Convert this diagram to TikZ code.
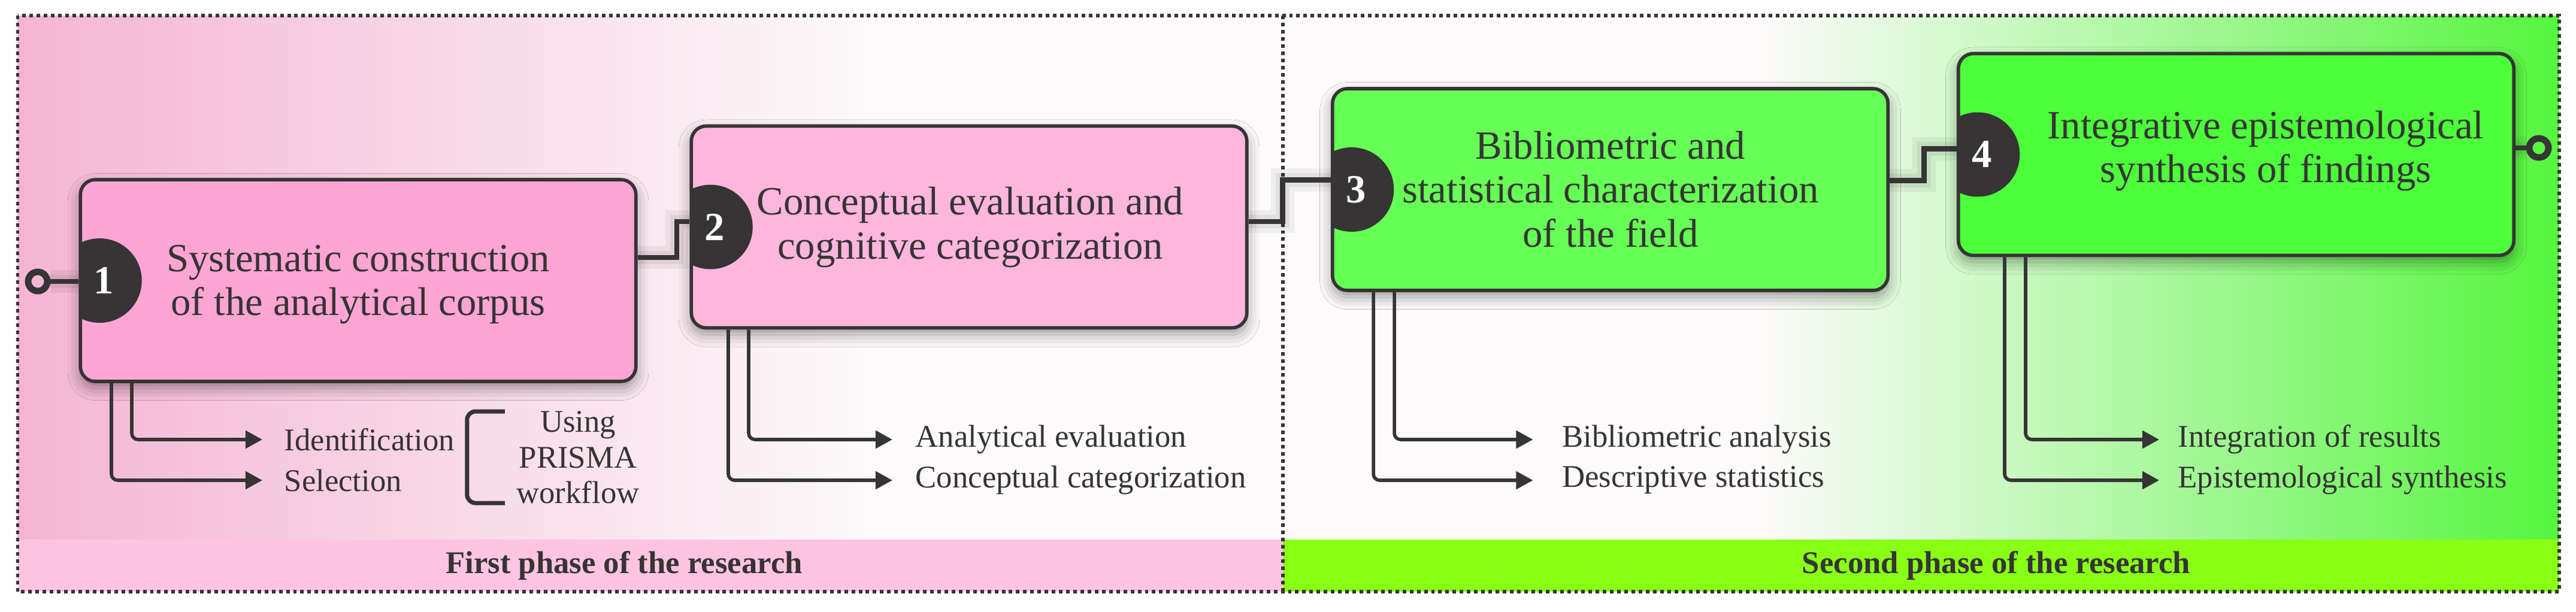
\documentclass[tikz,border=0pt]{standalone}
\usepackage{fontspec}
\setmainfont{Liberation Serif}
\usetikzlibrary{positioning,arrows.meta,shadows.blur}

\definecolor{ink}{RGB}{54,52,53}
\definecolor{boxa}{RGB}{255,165,212}
\definecolor{boxb}{RGB}{255,182,221}
\definecolor{boxc}{RGB}{102,255,85}
\definecolor{boxd}{RGB}{76,255,58}
\definecolor{bandpink}{RGB}{255,196,226}
\definecolor{bandgreen}{RGB}{137,255,22}
\definecolor{bgpink}{RGB}{244,181,211}
\definecolor{bgwhite}{RGB}{252,250,250}
\definecolor{bggreen}{RGB}{85,245,62}

\begin{document}
\begin{tikzpicture}
    % 设置样式
    \tikzset{
        stepbox/.style={rectangle, rounded corners=0.25cm, draw=ink, line width=1.6pt,
            minimum width=9.275cm, minimum height=3.37cm, inner sep=0pt,
            blur shadow={shadow xshift=0pt, shadow yshift=-3pt, shadow blur radius=6pt, shadow opacity=40},
            path picture={\fill[ink] ([xshift=0.32cm]path picture bounding box.west) circle (0.705cm);}},
        num/.style={text=white, font=\fontsize{19}{21}\selectfont\bfseries, inner sep=0pt},
        boxtext/.style={text=ink, align=center, font=\fontsize{19}{21}\selectfont, inner sep=0pt},
        sublabel/.style={text=ink, font=\fontsize{15}{17}\selectfont, inner sep=0pt},
        bandtext/.style={text=ink, font=\fontsize{15}{17}\selectfont\bfseries, inner sep=0pt},
        ring/.style={circle, draw=ink, line width=3.1pt, minimum size=0.32cm, inner sep=0pt},
        link/.style={draw=ink, line width=2.4pt,
            preaction={draw=black, draw opacity=0.05, line width=11pt},
            preaction={draw=black, draw opacity=0.06, line width=6.5pt}},
        sub/.style={draw=ink, line width=1.6pt, rounded corners=3pt, -{Triangle[length=8pt,width=8.3pt]}},
        bracket/.style={draw=ink, line width=2pt, rounded corners=4pt},
        border/.style={draw=ink, line width=1.7pt, dash pattern=on 1.7pt off 1.7pt},
    }

    % 边界
    \useasboundingbox (0,0) rectangle (43.01,-10.21);

    % 背景渐变
    \fill[left color=bgpink, right color=bgwhite] (0.295,-0.26) rectangle (14.5,-9.01);
    \fill[bgwhite] (14.5,-0.26) rectangle (29.5,-9.01);
    \fill[left color=bgwhite, right color=bggreen] (29.5,-0.26) rectangle (42.725,-9.01);

    % 底部阶段条
    \fill[bandpink] (0.295,-9.01) rectangle (21.415,-9.88);
    \fill[bandgreen] (21.415,-9.01) rectangle (42.725,-9.88);
    \node[bandtext] (ph1) at (10.42,-9.445) {First phase of the research};
    \node[bandtext] (ph2) at (33.33,-9.445) {Second phase of the research};

    % 分隔线和外框
    \draw[border] (21.415,-0.26) -- (21.415,-9.88);
    \draw[border] (0.295,-0.26) rectangle (42.725,-9.88);

    % 步骤框
    \node[stepbox, fill=boxa] (b1) at (5.98,-4.685) {};
    \node[stepbox, fill=boxb] (b2) at (16.18,-3.79) {};
    \node[stepbox, fill=boxc] (b3) at (26.885,-3.165) {};
    \node[stepbox, fill=boxd] (b4) at (37.335,-2.58) {};

    % 连接线
    \node[ring] (in) at (0.63,-4.70) {};
    \node[ring] (out) at (42.39,-2.47) {};
    \draw[link] (in) -- (in -| b1.west);
    \draw[link] ([yshift=0.385cm]b1.east) -- ++(0.655,0) |- ([yshift=0.09cm]b2.west);
    \draw[link] ([yshift=0.09cm]b2.east) -- ++(0.57,0) |- ([yshift=0.16cm]b3.west);
    \draw[link] ([yshift=0.15cm]b3.east) -- ++(0.575,0) |- ([yshift=0.095cm]b4.west);
    \draw[link] (out -| b4.east) -- (out);

    % 编号
    \foreach \bn/\k in {b1/1,b2/2,b3/3,b4/4} {
        \node[num] (\bn-n) at ([xshift=0.42cm]\bn.west) {\k};
    }

    % 框内文字
    \node[boxtext] (t1) at ([shift={(0,-0.065)}]b1.center) {Systematic construction\\of the analytical corpus};
    \node[boxtext] (t2) at ([shift={(0.02,-0.005)}]b2.center) {Conceptual evaluation and\\cognitive categorization};
    \node[boxtext] (t3) at ([shift={(0.005,0.005)}]b3.center) {Bibliometric and\\statistical characterization\\of the field};
    \node[boxtext] (t4) at ([shift={(0.495,0.06)}]b4.center) {Integrative epistemological\\synthesis of findings};

    % 子步骤箭头
    \foreach \bn/\pin/\pout/\tip/\gap/\la/\lb in {
        b1/0.886/0.546/4.38/0.36/Identification/Selection,
        b2/0.986/0.646/14.90/0.38/Analytical evaluation/Conceptual categorization,
        b3/1.061/0.711/25.595/0.48/Bibliometric analysis/Descriptive statistics,
        b4/1.15/0.80/36.05/0.31/Integration of results/Epistemological synthesis} {
        \coordinate (\bn-a) at (\tip,-7.34);
        \coordinate (\bn-b) at (\tip,-8.02);
        \node[sublabel, right=\gap cm of \bn-a] (\bn-la) {\la};
        \node[sublabel, right=\gap cm of \bn-b] (\bn-lb) {\lb};
        \draw[sub] ([xshift=\pin cm]\bn.south west) |- (\bn-a);
        \draw[sub] ([xshift=\pout cm]\bn.south west) |- (\bn-b);
    }

    % PRISMA 括号
    \node[sublabel, align=center] (prisma) at (9.65,-7.64) {Using\\PRISMA\\workflow};
    \draw[bracket] ([xshift=-0.19cm,yshift=0.77cm]prisma.west) -| ++(-0.63,-1.53) -- ++(0.63,0);
\end{tikzpicture}
\end{document}
